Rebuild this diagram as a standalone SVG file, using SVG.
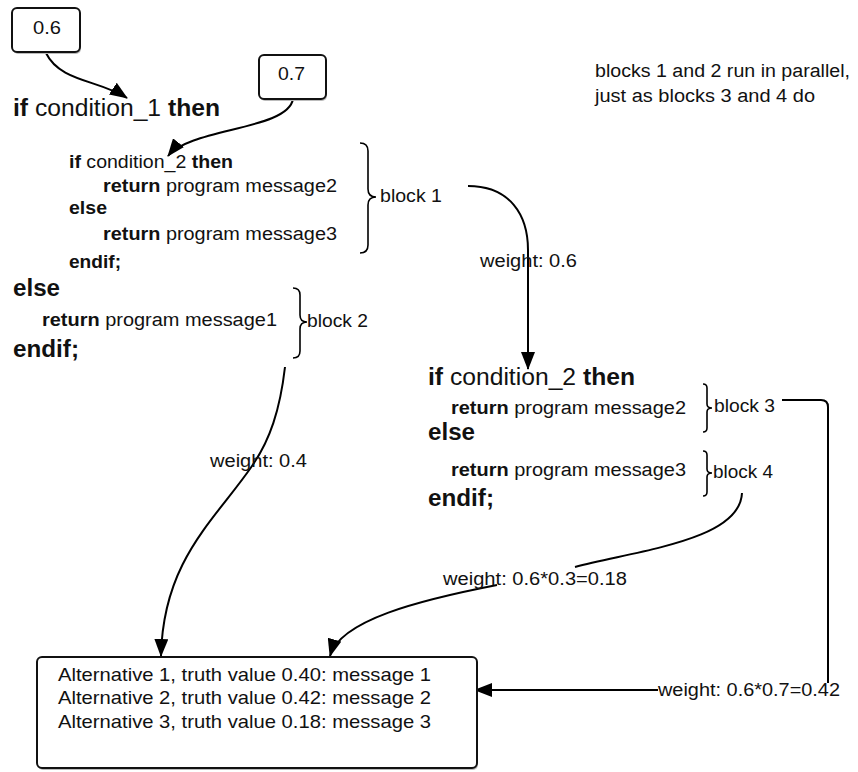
<svg xmlns="http://www.w3.org/2000/svg" width="858" height="772" viewBox="0 0 858 772">
<defs>
<marker id="ah" markerUnits="userSpaceOnUse" markerWidth="18" markerHeight="14" refX="17" refY="7" orient="auto">
<path d="M0,0 L18,7 L0,14 Z" fill="#000"/>
</marker>
<style>
text{font-family:"Liberation Sans",Arial,sans-serif;fill:#111;}
.b{font-weight:bold;}
.big{font-size:23px;}
.mid{font-size:18px;}
.res{font-size:19px;}
.box{fill:#fff;stroke:#111;stroke-width:2;}
.shadow{fill:#bbb;stroke:none;}
.ln{fill:none;stroke:#000;stroke-width:2;}
.br{fill:none;stroke:#000;stroke-width:1.6;}
</style>
</defs>
<rect width="858" height="772" fill="#fff"/>

<g id="connectors">
<path class="ln" d="M46,53 C60,82 100,80 127,98" marker-end="url(#ah)"/>
<path class="ln" d="M293,99 C288,130 190,128 168,156" marker-end="url(#ah)"/>
<path class="ln" d="M468,186 C510,186 528,215 528,250 L528,369" marker-end="url(#ah)"/>
<path class="ln" d="M285,367 C280,410 270,440 252,466 C215,520 163,560 161,656" marker-end="url(#ah)"/>
<path class="ln" d="M742,493 C740,540 640,550 575,567"/>
<path class="ln" d="M497,585 C420,600 340,620 330,656" marker-end="url(#ah)"/>
<path class="ln" d="M782,400 L821,400 Q828,400 828,407 L828,683"/>
<path class="ln" d="M658,690 L475,690" marker-end="url(#ah)"/>
</g>

<g id="box06">
<rect class="shadow" x="13" y="10" width="68" height="44" rx="5"/>
<rect class="box" x="12" y="8" width="68" height="44" rx="5"/>
<text class="mid" x="33" y="34" textLength="28" lengthAdjust="spacingAndGlyphs">0.6</text>
</g>
<g id="box07">
<rect class="shadow" x="260" y="57" width="67" height="44" rx="5"/>
<rect class="box" x="259" y="55" width="67" height="44" rx="5"/>
<text class="mid" x="278" y="80" textLength="27" lengthAdjust="spacingAndGlyphs">0.7</text>
</g>

<g id="code1">
<text class="big" x="13" y="116" textLength="207" lengthAdjust="spacingAndGlyphs"><tspan class="b">if</tspan> condition_1 <tspan class="b">then</tspan></text>
</g>

<g id="block1">
<text class="mid" x="69" y="168" textLength="164" lengthAdjust="spacingAndGlyphs"><tspan class="b">if</tspan> condition_2 <tspan class="b">then</tspan></text>
<text class="mid" x="103" y="192" textLength="234" lengthAdjust="spacingAndGlyphs"><tspan class="b">return</tspan> program message2</text>
<text class="mid b" x="69" y="214" textLength="38" lengthAdjust="spacingAndGlyphs">else</text>
<text class="mid" x="103" y="240" textLength="234" lengthAdjust="spacingAndGlyphs"><tspan class="b">return</tspan> program message3</text>
<text class="mid b" x="69" y="268" textLength="52" lengthAdjust="spacingAndGlyphs">endif;</text>
<path class="br" d="M360,143 Q368,143 368,151 L368,189 Q368,197 376,197 Q368,197 368,205 L368,245 Q368,253 360,253"/>
<text class="mid" x="380" y="202" textLength="62" lengthAdjust="spacingAndGlyphs">block 1</text>
</g>

<g id="block2">
<text class="big b" x="13" y="296" textLength="47" lengthAdjust="spacingAndGlyphs">else</text>
<text class="mid" x="42" y="326" textLength="235" lengthAdjust="spacingAndGlyphs"><tspan class="b">return</tspan> program message1</text>
<text class="big b" x="13" y="357" textLength="66" lengthAdjust="spacingAndGlyphs">endif;</text>
<path class="br" d="M293,288 Q300,288 300,295 L300,315 Q300,322 307,322 Q300,322 300,329 L300,351 Q300,358 293,358"/>
<text class="mid" x="307" y="327" textLength="61" lengthAdjust="spacingAndGlyphs">block 2</text>
</g>

<g id="note">
<text class="mid" x="595" y="77" textLength="255" lengthAdjust="spacingAndGlyphs">blocks 1 and 2 run in parallel,</text>
<text class="mid" x="595" y="102" textLength="220" lengthAdjust="spacingAndGlyphs">just as blocks 3 and 4 do</text>
</g>

<g id="code2">
<text class="big" x="428" y="385" textLength="207" lengthAdjust="spacingAndGlyphs"><tspan class="b">if</tspan> condition_2 <tspan class="b">then</tspan></text>
<text class="big b" x="428" y="440" textLength="47" lengthAdjust="spacingAndGlyphs">else</text>
<text class="big b" x="428" y="506" textLength="66" lengthAdjust="spacingAndGlyphs">endif;</text>
</g>

<g id="block3">
<text class="mid" x="451" y="414" textLength="235" lengthAdjust="spacingAndGlyphs"><tspan class="b">return</tspan> program message2</text>
<path class="br" d="M703,384 Q707,384 707,388 L707,404 Q707,408 712,408 Q707,408 707,412 L707,428 Q707,432 703,432"/>
<text class="mid" x="714" y="412" textLength="61" lengthAdjust="spacingAndGlyphs">block 3</text>
</g>

<g id="block4">
<text class="mid" x="451" y="476" textLength="235" lengthAdjust="spacingAndGlyphs"><tspan class="b">return</tspan> program message3</text>
<path class="br" d="M703,451 Q707,451 707,455 L707,469 Q707,473 712,473 Q707,473 707,477 L707,492 Q707,496 703,496"/>
<text class="mid" x="713" y="478" textLength="60" lengthAdjust="spacingAndGlyphs">block 4</text>
</g>

<g id="labels">
<text class="mid" x="480" y="267" textLength="97" lengthAdjust="spacingAndGlyphs">weight: 0.6</text>
<text class="mid" x="210" y="467" textLength="97" lengthAdjust="spacingAndGlyphs">weight: 0.4</text>
<text class="mid" x="443" y="585" textLength="184" lengthAdjust="spacingAndGlyphs">weight: 0.6*0.3=0.18</text>
<text class="mid" x="658" y="696" textLength="182" lengthAdjust="spacingAndGlyphs">weight: 0.6*0.7=0.42</text>
</g>

<g id="result">
<rect class="shadow" x="38" y="659" width="440" height="111" rx="5"/>
<rect class="box" x="37" y="657" width="440" height="111" rx="5"/>
<text class="res" x="58" y="681" textLength="373" lengthAdjust="spacingAndGlyphs">Alternative 1, truth value 0.40: message 1</text>
<text class="res" x="58" y="704" textLength="373" lengthAdjust="spacingAndGlyphs">Alternative 2, truth value 0.42: message 2</text>
<text class="res" x="58" y="728" textLength="373" lengthAdjust="spacingAndGlyphs">Alternative 3, truth value 0.18: message 3</text>
</g>
</svg>
